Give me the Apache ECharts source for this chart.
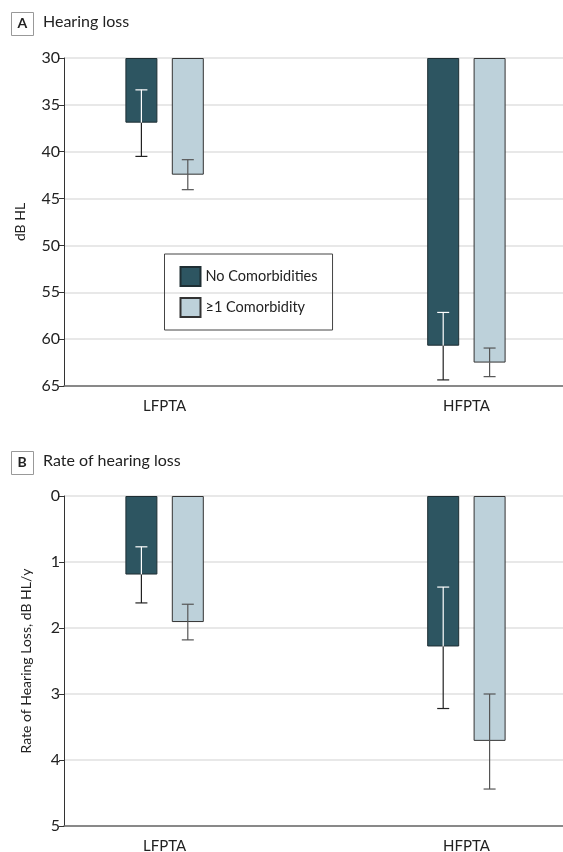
<!DOCTYPE html>
<html>
<head>
<meta charset="utf-8">
<script src="https://cdn.jsdelivr.net/npm/echarts@6/dist/echarts.min.js"></script>
<style>
html,body{margin:0;padding:0;background:#fff;}
#chart{width:563px;height:852px;}
</style>
</head>
<body>
<div id="chart"></div>
<script>
// ---- Data ----
const categories = ['LFPTA', 'HFPTA'];
const seriesNames = ['No Comorbidities', '\u22651 Comorbidity'];

// Panel A: hearing loss (dB HL)
const hlNoMean = [36.9, 60.7];
const hlNoLow = [33.4, 57.15];
const hlNoHigh = [40.5, 64.35];
const hlOneMean = [42.45, 62.5];
const hlOneLow = [40.85, 60.95];
const hlOneHigh = [44.05, 64.0];
const hlTicks = [30, 35, 40, 45, 50, 55, 60, 65];

// Panel B: rate of hearing loss (dB HL/y)
const rateNoMean = [1.19, 2.28];
const rateNoLow = [0.77, 1.38];
const rateNoHigh = [1.62, 3.22];
const rateOneMean = [1.91, 3.71];
const rateOneLow = [1.64, 3.0];
const rateOneHigh = [2.18, 4.44];
const rateTicks = [0, 1, 2, 3, 4, 5];

// ---- Build ----
const slots = [1, 4];             // category slots on a 6-slot axis
const axisData = ['', '', '', '', '', ''];
slots.forEach((s, i) => { axisData[s] = categories[i]; });
function place(arr) {
  const out = ['-', '-', '-', '-', '-', '-'];
  slots.forEach((s, i) => { out[s] = arr[i]; });
  return out;
}
function placeDelta(arr, base) {
  const out = ['-', '-', '-', '-', '-', '-'];
  slots.forEach((s, i) => { out[s] = arr[i] - base; });
  return out;
}
function errData(low, high, mean) {
  return slots.map((s, i) => [s, low[i], high[i], mean[i]]);
}

const FONT = 'Lato, Roboto, sans-serif';
const DARK = '#2d5561';
const LIGHT = '#bdd1da';
const TXT = '#222';
const BAR_W = 32;
const OFFSET = 23.2;

function errSeries(gridIdx, data, offset, inColor, outColor) {
  return {
    type: 'custom',
    xAxisIndex: gridIdx, yAxisIndex: gridIdx,
    z: 10,
    silent: true,
    encode: { x: 0, y: [1, 2] },
    data: data,
    renderItem: function (params, api) {
      const cx = api.value(0);
      const pLow = api.coord([cx, api.value(1)]);
      const pHigh = api.coord([cx, api.value(2)]);
      const pMean = api.coord([cx, api.value(3)]);
      const x = pMean[0] + offset;
      const cap = 6;
      const lw = 1.2;
      return {
        type: 'group',
        children: [
          { type: 'line', shape: { x1: x, y1: pLow[1], x2: x, y2: pMean[1] }, style: { stroke: inColor, lineWidth: lw } },
          { type: 'line', shape: { x1: x, y1: pMean[1], x2: x, y2: pHigh[1] }, style: { stroke: outColor, lineWidth: lw } },
          { type: 'line', shape: { x1: x - cap, y1: pLow[1], x2: x + cap, y2: pLow[1] }, style: { stroke: inColor, lineWidth: lw } },
          { type: 'line', shape: { x1: x - cap, y1: pHigh[1], x2: x + cap, y2: pHigh[1] }, style: { stroke: outColor, lineWidth: lw } }
        ]
      };
    }
  };
}

function barSeries(gridIdx, name, base, values, stack, color, border) {
  return [
    {
      type: 'bar', name: '_base' + stack + gridIdx, xAxisIndex: gridIdx, yAxisIndex: gridIdx,
      stack: stack + gridIdx, barWidth: BAR_W, barGap: '45%', silent: true,
      itemStyle: { color: 'transparent' },
      data: place([base, base])
    },
    {
      type: 'bar', name: name, xAxisIndex: gridIdx, yAxisIndex: gridIdx,
      stack: stack + gridIdx, barWidth: BAR_W, barGap: '45%',
      itemStyle: { color: color, borderColor: border, borderWidth: 1 },
      data: placeDelta(values, base)
    }
  ];
}

function xAxis(gridIdx) {
  return {
    type: 'category', gridIndex: gridIdx, data: axisData, boundaryGap: false,
    axisTick: { show: false },
    axisLine: { onZero: false, lineStyle: { color: '#6a6a6a', width: 1.5 } },
    axisLabel: { interval: 0, color: TXT, fontSize: 15, fontFamily: FONT, margin: 13 },
    splitLine: { show: false }
  };
}
function yAxis(gridIdx, min, max, interval, name, gap) {
  return {
    type: 'value', gridIndex: gridIdx, inverse: true, min: min, max: max, interval: interval,
    name: name, nameLocation: 'middle', nameGap: gap,
    nameTextStyle: { color: TXT, fontSize: 14, fontFamily: FONT },
    axisLine: { show: true, lineStyle: { color: '#333', width: 1 } },
    axisTick: { show: true, length: 5, lineStyle: { color: '#333' } },
    axisLabel: { color: TXT, fontSize: 16, fontFamily: FONT, margin: 4 },
    splitLine: { show: true, lineStyle: { color: '#e0e0e0', width: 1.5 } }
  };
}

const option = {
  animation: false,
  backgroundColor: '#fff',
  textStyle: { fontFamily: FONT },
  grid: [
    { left: 64, width: 503, top: 58, height: 328, outerBoundsMode: 'none', containLabel: false },
    { left: 64, width: 503, top: 496, height: 330, outerBoundsMode: 'none', containLabel: false }
  ],
  xAxis: [xAxis(0), xAxis(1)],
  yAxis: [
    yAxis(0, hlTicks[0], hlTicks[hlTicks.length - 1], hlTicks[1] - hlTicks[0], 'dB HL', 37),
    yAxis(1, rateTicks[0], rateTicks[rateTicks.length - 1], rateTicks[1] - rateTicks[0], 'Rate of Hearing Loss, dB HL/y', 31)
  ],
  legend: {
    data: seriesNames,
    orient: 'vertical', left: 164.5, top: 254,
    borderColor: '#444', borderWidth: 1, borderRadius: 0,
    padding: [12, 15, 12, 15], itemGap: 10,
    itemWidth: 20, itemHeight: 19, icon: 'rect',
    selectedMode: false,
    textStyle: { color: TXT, fontSize: 14.5, fontFamily: FONT, padding: [0, 0, 0, 0] }
  },
  graphic: [
    { type: 'rect', left: 11, top: 12, shape: { width: 22, height: 23 }, style: { fill: '#fff', stroke: '#999', lineWidth: 1 } },
    { type: 'text', left: 17.5, top: 16, style: { text: 'A', fontWeight: 'bold', fontSize: 14, fill: TXT, fontFamily: FONT } },
    { type: 'text', left: 43, top: 14, style: { text: 'Hearing loss', fontSize: 16, fill: TXT, fontFamily: FONT } },
    { type: 'rect', left: 11, top: 451, shape: { width: 22, height: 23 }, style: { fill: '#fff', stroke: '#999', lineWidth: 1 } },
    { type: 'text', left: 17.5, top: 455, style: { text: 'B', fontWeight: 'bold', fontSize: 14, fill: TXT, fontFamily: FONT } },
    { type: 'text', left: 43, top: 453, style: { text: 'Rate of hearing loss', fontSize: 16, fill: TXT, fontFamily: FONT } }
  ],
  series: [].concat(
    barSeries(0, seriesNames[0], hlTicks[0], hlNoMean, 'a', DARK, '#1e2e33'),
    barSeries(0, seriesNames[1], hlTicks[0], hlOneMean, 'b', LIGHT, '#333'),
    barSeries(1, seriesNames[0], rateTicks[0], rateNoMean, 'a', DARK, '#1e2e33'),
    barSeries(1, seriesNames[1], rateTicks[0], rateOneMean, 'b', LIGHT, '#333'),
    [
      errSeries(0, errData(hlNoLow, hlNoHigh, hlNoMean), -OFFSET, '#ffffff', '#222'),
      errSeries(0, errData(hlOneLow, hlOneHigh, hlOneMean), OFFSET, '#555', '#555'),
      errSeries(1, errData(rateNoLow, rateNoHigh, rateNoMean), -OFFSET, '#ffffff', '#222'),
      errSeries(1, errData(rateOneLow, rateOneHigh, rateOneMean), OFFSET, '#555', '#555')
    ]
  )
};

const chart = echarts.init(document.getElementById('chart'), null, { renderer: 'canvas' });
chart.setOption(option);
</script>
</body>
</html>
